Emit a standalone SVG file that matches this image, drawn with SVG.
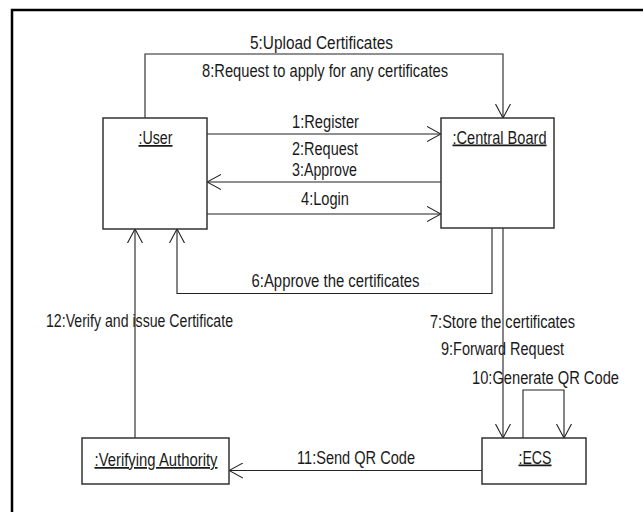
<svg xmlns="http://www.w3.org/2000/svg" width="643" height="512" viewBox="0 0 643 512">
<style>
.box{fill:#fff;stroke:#333;stroke-width:1.5}
.ln{fill:none;stroke:#222;stroke-width:1.1}
text{font-family:"Liberation Sans",Arial,sans-serif;font-size:17.5px;fill:#1a1a1a}
.u{text-decoration:underline}
</style>
<defs>
<marker id="open" viewBox="0 0 14 16" refX="14" refY="8" markerWidth="14" markerHeight="16" markerUnits="userSpaceOnUse" orient="auto">
<path d="M0,0.5 L14,8 L0,15.5" fill="none" stroke="#222" stroke-width="1.1"/>
</marker>
</defs>
<rect x="0" y="0" width="643" height="512" fill="#fff"/>
<path d="M12,512 V10 H643" fill="none" stroke="#000" stroke-width="2.5"/>

<g id="connectors">
<path class="ln" d="M145,118 V54 H503 V118" marker-end="url(#open)"/>
<path class="ln" d="M207,134 H441" marker-end="url(#open)"/>
<path class="ln" d="M441,182 H207" marker-end="url(#open)"/>
<path class="ln" d="M207,214 H441" marker-end="url(#open)"/>
<path class="ln" d="M492,228 V293.5 H177 V229" marker-end="url(#open)"/>
<path class="ln" d="M503,228 V438" marker-end="url(#open)"/>
<path class="ln" d="M523,438 V390 H564 V438" marker-end="url(#open)"/>
<path class="ln" d="M482,470.5 H229" marker-end="url(#open)"/>
<path class="ln" d="M135,438 V229" marker-end="url(#open)"/>
<text x="250" y="49" textLength="143" lengthAdjust="spacingAndGlyphs">5:Upload Certificates</text>
<text x="202" y="77" textLength="246" lengthAdjust="spacingAndGlyphs">8:Request to apply for any certificates</text>
<text x="292" y="128" textLength="67" lengthAdjust="spacingAndGlyphs">1:Register</text>
<text x="292" y="155" textLength="66" lengthAdjust="spacingAndGlyphs">2:Request</text>
<text x="292" y="175.5" textLength="65" lengthAdjust="spacingAndGlyphs">3:Approve</text>
<text x="301" y="205" textLength="48" lengthAdjust="spacingAndGlyphs">4:Login</text>
<text x="251.5" y="287" textLength="168" lengthAdjust="spacingAndGlyphs">6:Approve the certificates</text>
<text x="46" y="326.5" textLength="187" lengthAdjust="spacingAndGlyphs">12:Verify and issue Certificate</text>
<text x="430" y="328" textLength="145" lengthAdjust="spacingAndGlyphs">7:Store the certificates</text>
<text x="441" y="355" textLength="123" lengthAdjust="spacingAndGlyphs">9:Forward Request</text>
<text x="472" y="384" textLength="147" lengthAdjust="spacingAndGlyphs">10:Generate QR Code</text>
<text x="297" y="463.5" textLength="118" lengthAdjust="spacingAndGlyphs">11:Send QR Code</text>
</g>

<g id="user">
<rect class="box" x="103" y="118" width="104" height="111"/>
<text class="u" x="138.5" y="144" textLength="34" lengthAdjust="spacingAndGlyphs">:User</text>
</g>
<g id="central-board">
<rect class="box" x="441" y="118" width="113" height="110"/>
<text class="u" x="452.5" y="143.5" textLength="94" lengthAdjust="spacingAndGlyphs">:Central Board</text>
</g>
<g id="verifying-authority">
<rect class="box" x="82" y="438" width="147" height="46"/>
<text class="u" x="94.5" y="466" textLength="123" lengthAdjust="spacingAndGlyphs">:Verifying Authority</text>
</g>
<g id="ecs">
<rect class="box" x="482" y="438" width="104" height="46"/>
<text class="u" x="518.5" y="463.5" textLength="33" lengthAdjust="spacingAndGlyphs">:ECS</text>
</g>
</svg>
